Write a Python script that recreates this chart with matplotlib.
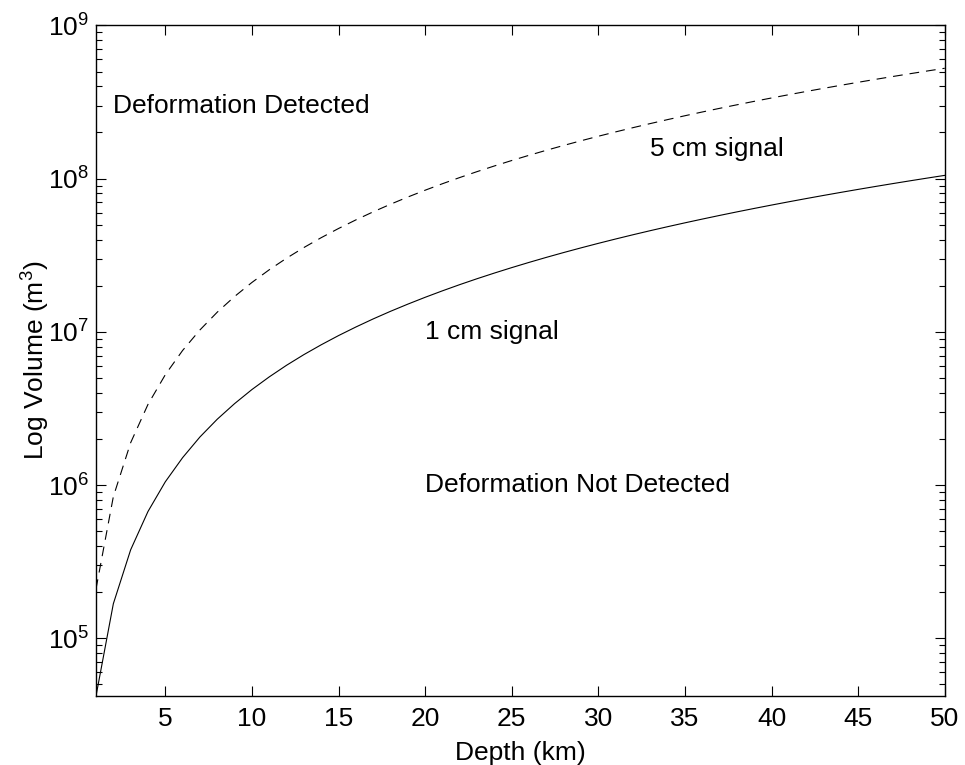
import matplotlib
matplotlib.use("Agg")
import matplotlib.pyplot as plt
from matplotlib.ticker import LogLocator, FixedLocator, NullFormatter, LogFormatterSciNotation

plt.rcParams['font.family'] = ['Liberation Sans', 'DejaVu Sans']
plt.rcParams['mathtext.fontset'] = 'custom'
plt.rcParams['mathtext.rm'] = 'Liberation Sans'
plt.rcParams['mathtext.it'] = 'Liberation Sans'
plt.rcParams['mathtext.bf'] = 'Liberation Sans'
plt.rcParams['lines.scale_dashes'] = False

depth_km = list(range(1, 51))
# volumes in millions of m^3
vol_1cm = [0.042, 0.168, 0.378, 0.672, 1.05, 1.51, 2.06, 2.69, 3.40, 4.20,
           5.08, 6.05, 7.10, 8.23, 9.45, 10.75, 12.14, 13.61, 15.16, 16.8,
           18.52, 20.33, 22.22, 24.19, 26.25, 28.39, 30.62, 32.93, 35.32, 37.8,
           40.36, 43.01, 45.74, 48.55, 51.45, 54.43, 57.50, 60.65, 63.88, 67.2,
           70.6, 74.09, 77.66, 81.31, 85.05, 88.87, 92.78, 96.77, 100.84, 105.0]
vol_5cm = [0.21, 0.84, 1.89, 3.36, 5.25, 7.56, 10.29, 13.44, 17.01, 21.0,
           25.41, 30.24, 35.49, 41.16, 47.25, 53.76, 60.69, 68.04, 75.81, 84.0,
           92.61, 101.64, 111.09, 120.96, 131.25, 141.96, 153.09, 164.64, 176.61, 189.0,
           201.81, 215.04, 228.69, 242.76, 257.25, 272.16, 287.49, 303.24, 319.41, 336.0,
           353.01, 370.44, 388.29, 406.56, 425.25, 444.36, 463.89, 483.84, 504.21, 525.0]
x_ticks = [5, 10, 15, 20, 25, 30, 35, 40, 45, 50]

fs = 19
fig = plt.figure(figsize=(9.65, 7.65), dpi=100)
ax = fig.add_axes([0.0995, 0.0902, 0.8795, 0.8766])

ax.plot(depth_km, [v * 1e6 for v in vol_1cm], color='black', lw=0.8)
ax.plot(depth_km, [v * 1e6 for v in vol_5cm], color='black', lw=0.8, dashes=(7, 5))

ax.set_yscale('log')
ax.set_xlim(1, 50)
ax.set_ylim(vol_1cm[0] * 1e6, 1e9)
ax.xaxis.set_major_locator(FixedLocator(x_ticks))
ax.yaxis.set_major_locator(LogLocator(base=10, numticks=20))
ax.yaxis.set_minor_locator(LogLocator(base=10, subs=range(2, 10), numticks=50))
ax.yaxis.set_minor_formatter(NullFormatter())
ax.yaxis.set_major_formatter(LogFormatterSciNotation())

ax.tick_params(which='both', direction='in', top=True, right=True, labelsize=fs, width=0.8)
ax.tick_params(which='major', length=7)
ax.tick_params(axis='x', which='major', pad=8)
ax.tick_params(axis='y', which='major', pad=5)
ax.tick_params(which='minor', length=4)
for s in ax.spines.values():
    s.set_linewidth(1.0)

ax.set_xlabel('Depth (km)', fontsize=fs, labelpad=7)
ax.set_ylabel('Log Volume (m$^3$)', fontsize=fs, labelpad=-3)

ax.text(2, 3e8, 'Deformation Detected', fontsize=fs, va='center', ha='left')
ax.text(33, 1.55e8, '5 cm signal', fontsize=fs, va='center', ha='left')
ax.text(20, 1e7, '1 cm signal', fontsize=fs, va='center', ha='left')
ax.text(20, 1e6, 'Deformation Not Detected', fontsize=fs, va='center', ha='left')

fig.savefig('out.png', dpi=100)
